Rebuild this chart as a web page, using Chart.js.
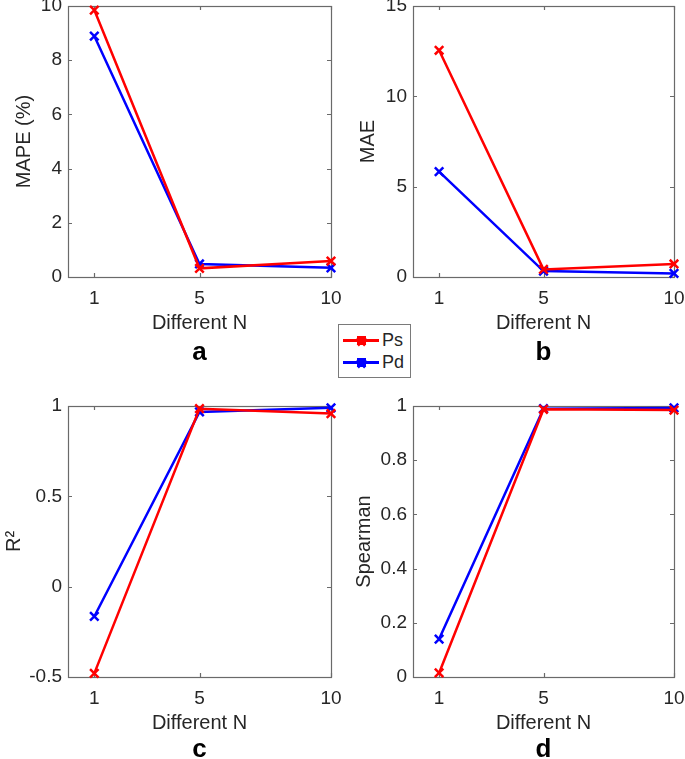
<!DOCTYPE html>
<html>
<head>
<meta charset="utf-8">
<script src="https://cdn.jsdelivr.net/npm/chart.js@4.4.1/dist/chart.umd.min.js"></script>
<style>
  body { margin: 0; width: 685px; height: 759px; overflow: hidden; background: #fff; position: relative;
         font-family: "Liberation Sans", Arial, sans-serif; }
  canvas { position: absolute; }
  #legend { position: absolute; left: 338px; top: 324px; width: 71px; height: 52px; border: 1px solid #7a7a7a;
            background: #fff; font-size: 18px; color: #262626; }
  #legend .row { position: absolute; left: 0; height: 22px; line-height: 22px; }
  #legend .line { position: absolute; left: 4px; top: 10px; width: 36px; height: 3px; }
  #legend .mk { position: absolute; left: 18px; top: 7px; width: 9px; height: 9px; }
  #legend .mk::before, #legend .mk::after { content: ""; position: absolute; left: -1px; top: 3.5px; width: 11px;
            height: 2.5px; background: inherit; }
  #legend .mk::before { transform: rotate(45deg); }
  #legend .mk::after { transform: rotate(-45deg); }
  #legend .txt { position: absolute; left: 43px; top: 0; }
</style>
</head>
<body>
<canvas id="chartA" width="345" height="390" style="left:0;top:-10px"></canvas>
<canvas id="chartB" width="340" height="390" style="left:345px;top:-10px"></canvas>
<canvas id="chartC" width="345" height="379" style="left:0;top:380px"></canvas>
<canvas id="chartD" width="340" height="379" style="left:345px;top:380px"></canvas>
<div id="legend"></div>
<script>
// x positions (different N)
const nValues = [1, 5, 10];
const seriesNames = ['Ps', 'Pd'];
const seriesColors = ['#ff0000', '#0000ff'];

// a: MAPE (%)
const mapePs = [9.85, 0.32, 0.59];
const mapePd = [8.89, 0.48, 0.34];
// b: MAE
const maePs = [12.55, 0.42, 0.72];
const maePd = [5.83, 0.33, 0.20];
// c: R^2
const r2Ps = [-0.48, 0.985, 0.958];
const r2Pd = [-0.165, 0.967, 0.99];
// d: Spearman
const spPs = [0.015, 0.988, 0.985];
const spPd = [0.14, 0.99, 0.993];

Chart.defaults.font.family = '"Liberation Sans", Arial, sans-serif';
Chart.defaults.color = '#262626';

// matlab style box with inward ticks (under the lines) and the panel letter
const boxPlugin = {
  id: 'box',
  beforeDatasetsDraw(chart) {
    const { ctx, chartArea: a, scales: { x, y } } = chart;
    ctx.save();
    ctx.strokeStyle = '#6a6a6a';
    ctx.lineWidth = 1.2;
    ctx.strokeRect(Math.round(a.left) + 0.5, Math.round(a.top) + 0.5,
                   Math.round(a.right - a.left), Math.round(a.bottom - a.top));
    ctx.beginPath();
    const tl = 4;
    x.ticks.forEach(t => {
      const px = Math.round(x.getPixelForValue(t.value)) + 0.5;
      ctx.moveTo(px, a.bottom); ctx.lineTo(px, a.bottom - tl);
      ctx.moveTo(px, a.top); ctx.lineTo(px, a.top + tl);
    });
    y.ticks.forEach(t => {
      const py = Math.round(y.getPixelForValue(t.value)) + 0.5;
      ctx.moveTo(a.left, py); ctx.lineTo(a.left + tl, py);
      ctx.moveTo(a.right, py); ctx.lineTo(a.right - tl, py);
    });
    ctx.stroke();
    ctx.restore();
  },
  afterDraw(chart, args, opts) {
    const { ctx, chartArea: a } = chart;
    ctx.save();
    ctx.fillStyle = '#000';
    ctx.font = 'bold 26px "Liberation Sans", Arial, sans-serif';
    ctx.textAlign = 'center';
    ctx.textBaseline = 'alphabetic';
    ctx.fillText(opts.tag, (a.left + a.right) / 2, opts.tagY);
    ctx.restore();
  }
};

function series(vals, i) {
  return {
    label: seriesNames[i],
    data: nValues.map((n, k) => ({ x: n, y: vals[k] })),
    borderColor: seriesColors[i],
    backgroundColor: seriesColors[i],
    borderWidth: 2.5,
    pointStyle: 'crossRot',
    pointRadius: 6,
    pointBorderWidth: 2.5,
    tension: 0,
    clip: 10
  };
}

function makePanel(id, ps, pd, yLabel, yMin, yMax, yStep, lay) {
  return new Chart(document.getElementById(id), {
    type: 'line',
    data: { datasets: [series(ps, 0), series(pd, 1)] },
    plugins: [boxPlugin],
    options: {
      responsive: false,
      animation: false,
      layout: { padding: { left: 0, top: lay.top, right: lay.right, bottom: 0 } },
      plugins: {
        legend: { display: false },
        tooltip: { enabled: false },
        box: { tag: lay.tag, tagY: lay.tagY }
      },
      scales: {
        x: {
          type: 'linear', min: 0, max: 10,
          grid: { display: false, drawTicks: false },
          border: { display: false },
          afterBuildTicks: s => { s.ticks = nValues.map(v => ({ value: v })); },
          afterFit: s => { s.height = lay.xh; s.paddingLeft = s.paddingRight = 0; },
          ticks: { font: { size: 19 }, padding: 10, maxRotation: 0 },
          title: { display: true, text: 'Different N', font: { size: 20 }, padding: { top: 0, bottom: lay.xtb } }
        },
        y: {
          min: yMin, max: yMax,
          grid: { display: false, drawTicks: false },
          border: { display: false },
          afterFit: s => { s.width = 68; s.paddingTop = s.paddingBottom = 0; },
          ticks: { font: { size: 19 }, padding: 6, stepSize: yStep, callback: v => String(+v.toFixed(2)) },
          title: { display: true, text: yLabel, font: { size: 20 }, padding: { top: lay.ytp, bottom: 0 } }
        }
      }
    }
  });
}

makePanel('chartA', mapePs, mapePd, 'MAPE (%)', 0, 10, 2,
  { top: 16, right: 14, xh: 103, xtb: 45, ytp: 12, tag: 'a', tagY: 370 });
makePanel('chartB', maePs, maePd, 'MAE', 0, 15, 5,
  { top: 16, right: 11, xh: 103, xtb: 45, ytp: 11, tag: 'b', tagY: 370 });
makePanel('chartC', r2Ps, r2Pd, 'R\u00B2', -0.5, 1, 0.5,
  { top: 26, right: 14, xh: 82, xtb: 24, ytp: 2, tag: 'c', tagY: 377 });
makePanel('chartD', spPs, spPd, 'Spearman', 0, 1, 0.2,
  { top: 26, right: 11, xh: 82, xtb: 24, ytp: 7, tag: 'd', tagY: 377 });

// shared legend
const legend = document.getElementById('legend');
seriesNames.forEach((name, i) => {
  const row = document.createElement('div');
  row.className = 'row';
  row.style.top = (4 + i * 22) + 'px';
  row.innerHTML = '<span class="line" style="background:' + seriesColors[i] + '"></span>' +
    '<span class="mk" style="background:' + seriesColors[i] + '"></span>' +
    '<span class="txt">' + name + '</span>';
  legend.appendChild(row);
});
</script>
</body>
</html>
